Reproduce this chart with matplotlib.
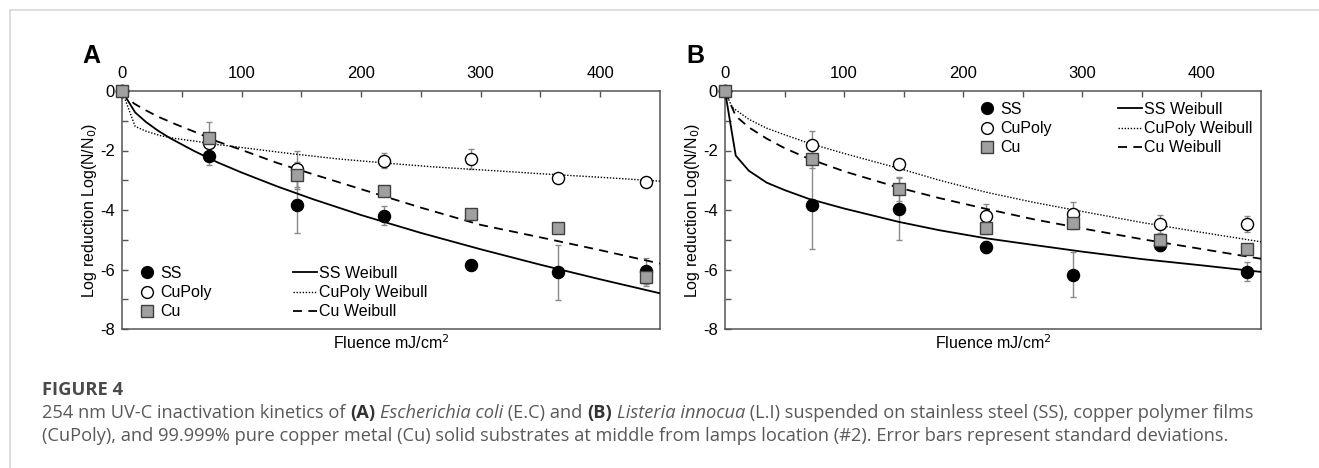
import matplotlib
matplotlib.use("Agg")
import matplotlib.pyplot as plt
from matplotlib.lines import Line2D

# ---------------- data ----------------
fluence = [0, 73, 146, 219, 292, 365, 438]

a_ss = [0, -2.17, -3.83, -4.19, -5.84, -6.10, -6.05]
a_ss_err = [0, 0.33, 0.93, 0.33, 0.08, 0.93, 0.43]
a_cupoly = [0, -1.74, -2.62, -2.35, -2.28, -2.93, -3.07]
a_cupoly_err = [0, 0.10, 0.60, 0.25, 0.33, 0.10, 0.10]
a_cu = [0, -1.57, -2.84, -3.35, -4.13, -4.61, -6.25]
a_cu_err = [0, 0.52, 0.45, 0.10, 0.10, 0.10, 0.30]

b_ss = [0, -3.82, -3.97, -5.24, -6.17, -5.18, -6.07]
b_ss_err = [0, 1.50, 1.05, 0.20, 0.77, 0.20, 0.33]
b_cupoly = [0, -1.80, -2.44, -4.19, -4.13, -4.47, -4.47]
b_cupoly_err = [0, 0.47, 0.10, 0.40, 0.40, 0.30, 0.28]
b_cu = [0, -2.30, -3.30, -4.60, -4.44, -5.02, -5.30]
b_cu_err = [0, 0.30, 0.40, 0.20, 0.20, 0.20, 0.15]

# Weibull fit curves
a_ss_fit_x = [0, 11, 20, 30, 40, 60, 80, 100, 130, 160, 200, 250, 300, 350, 400, 450]
a_ss_fit_y = [0, -0.72, -1.04, -1.33, -1.58, -2.01, -2.40, -2.74, -3.21, -3.64, -4.17, -4.77, -5.32, -5.84, -6.33, -6.80]
a_cupoly_fit_x = [0, 11, 20, 32, 45, 60, 80, 100, 140, 180, 220, 260, 300, 350, 400, 450]
a_cupoly_fit_y = [0, -1.19, -1.35, -1.50, -1.60, -1.68, -1.80, -1.90, -2.10, -2.28, -2.42, -2.55, -2.65, -2.78, -2.90, -3.03]
a_cu_fit_x = [0, 10, 20, 30, 45, 60, 80, 100, 130, 160, 200, 250, 300, 350, 400, 450]
a_cu_fit_y = [0, -0.42, -0.65, -0.86, -1.12, -1.36, -1.70, -1.98, -2.42, -2.80, -3.30, -3.92, -4.50, -4.92, -5.35, -5.80]

b_ss_fit_x = [0, 9, 20, 35, 50, 70, 100, 146, 180, 219, 260, 300, 350, 400, 450]
b_ss_fit_y = [0, -2.17, -2.68, -3.08, -3.33, -3.62, -3.95, -4.40, -4.68, -4.95, -5.18, -5.40, -5.65, -5.86, -6.08]
b_cupoly_fit_x = [0, 6, 20, 35, 50, 70, 100, 146, 180, 219, 260, 300, 350, 400, 450]
b_cupoly_fit_y = [0, -0.55, -0.95, -1.25, -1.47, -1.75, -2.10, -2.60, -3.00, -3.40, -3.75, -4.05, -4.42, -4.75, -5.07]
b_cu_fit_x = [0, 9, 20, 35, 50, 70, 100, 146, 180, 219, 260, 300, 350, 400, 450]
b_cu_fit_y = [0, -0.84, -1.22, -1.60, -1.92, -2.27, -2.70, -3.25, -3.60, -3.96, -4.32, -4.62, -4.98, -5.31, -5.64]

x_ticks = [0, 100, 200, 300, 400]
y_ticks = [0, -2, -4, -6, -8]

# ---------------- layout ----------------
W, H = 1319, 468
fig = plt.figure(figsize=(W / 100, H / 100), dpi=100)
plt.rcParams['font.family'] = ['Liberation Sans', 'DejaVu Sans']
plt.rcParams['axes.unicode_minus'] = False


def fx(x):
    return x / W


def fy(y):
    return 1 - y / H


def add_axes(l, r, t, b):
    return fig.add_axes([fx(l), fy(b), fx(r) - fx(l), fy(t) - fy(b)])


spine_col = '#555555'
FS = 11.5
TFS = 12


def style_axes(ax):
    ax.set_xlim(0, 450)
    ax.set_ylim(-8, 0)
    ax.xaxis.set_ticks_position('top')
    ax.xaxis.set_label_position('bottom')
    ax.set_xticks(x_ticks)
    ax.set_xticks([50, 150, 250, 350], minor=True)
    ax.set_yticks(y_ticks)
    ax.set_yticks([-1, -3, -5, -7], minor=True)
    ax.tick_params(which='both', direction='in', colors=spine_col,
                   labelcolor='black', labelsize=TFS, width=1)
    ax.tick_params(which='major', length=4)
    ax.tick_params(axis='x', which='major', pad=7)
    ax.tick_params(axis='y', which='major', pad=5)
    ax.tick_params(which='minor', length=4)
    for s in ax.spines.values():
        s.set_color(spine_col)
        s.set_linewidth(1.1)
    ax.set_xlabel('Fluence mJ/cm$^2$', fontsize=FS, labelpad=3)
    ax.set_ylabel('Log reduction Log(N/N$_0$)', fontsize=FS)
    ax.yaxis.set_label_coords(-23 / 538, 0.5)


def draw_panel(ax, ss, sse, cp, cpe, cu, cue, fits):
    ecol = '#8a8a8a'
    for y, e in ((ss, sse), (cp, cpe), (cu, cue)):
        ax.errorbar(fluence, y, yerr=e, fmt='none', ecolor=ecol,
                    elinewidth=1, capsize=2.2, capthick=1, zorder=2, clip_on=False)
    (sx, sy), (px, py), (cx, cy) = fits
    ax.plot(sx, sy, color='black', lw=1.3, ls='-', zorder=3)
    ax.plot(px, py, color='black', lw=1.0, ls=(0, (1, 1.2)), zorder=3)
    ax.plot(cx, cy, color='black', lw=1.3, ls=(0, (5, 3.5)), zorder=3)
    ax.plot(fluence, ss, ls='none', marker='o', ms=8.7, mfc='black', mec='black',
            zorder=4, clip_on=False)
    ax.plot(fluence, cp, ls='none', marker='o', ms=8.7, mfc='white', mec='black',
            mew=1, zorder=5, clip_on=False)
    ax.plot(fluence, cu, ls='none', marker='s', ms=8.7, mfc='#a0a0a0', mec='#404040',
            mew=1, zorder=6, clip_on=False)


def add_legends(ax, col1_left, col2_left, top):
    mk = [Line2D([], [], ls='none', marker='o', ms=8.5, mfc='black', mec='black'),
          Line2D([], [], ls='none', marker='o', ms=8.5, mfc='white', mec='black'),
          Line2D([], [], ls='none', marker='s', ms=8.5, mfc='#a0a0a0', mec='#404040')]
    ln = [Line2D([], [], color='black', lw=1.3, ls='-'),
          Line2D([], [], color='black', lw=1.0, ls=(0, (1, 1.2))),
          Line2D([], [], color='black', lw=1.3, ls=(0, (5, 3.5)))]
    kw = dict(loc='upper left', frameon=False, fontsize=FS, borderpad=0,
              borderaxespad=0, handlelength=1.5, handletextpad=0.1,
              labelspacing=0.26, bbox_transform=fig.transFigure)
    l1 = ax.legend(mk, ['SS', 'CuPoly', 'Cu'], bbox_to_anchor=(fx(col1_left), fy(top)), **kw)
    ax.add_artist(l1)
    ax.legend(ln, ['SS Weibull', 'CuPoly Weibull', 'Cu Weibull'],
              bbox_to_anchor=(fx(col2_left), fy(top)), **kw)


axA = add_axes(122, 660, 91, 329)
style_axes(axA)
draw_panel(axA, a_ss, a_ss_err, a_cupoly, a_cupoly_err, a_cu, a_cu_err,
           [(a_ss_fit_x, a_ss_fit_y), (a_cupoly_fit_x, a_cupoly_fit_y), (a_cu_fit_x, a_cu_fit_y)])
add_legends(axA, 135, 293, 266)

axB = add_axes(725, 1261, 91, 329)
style_axes(axB)
draw_panel(axB, b_ss, b_ss_err, b_cupoly, b_cupoly_err, b_cu, b_cu_err,
           [(b_ss_fit_x, b_ss_fit_y), (b_cupoly_fit_x, b_cupoly_fit_y), (b_cu_fit_x, b_cu_fit_y)])
add_legends(axB, 975, 1118, 102)

fig.text(fx(82), fy(63), 'A', fontsize=18, fontweight='bold', ha='left', va='baseline')
fig.text(fx(686), fy(63), 'B', fontsize=18, fontweight='bold', ha='left', va='baseline')

# ---------------- frame lines ----------------
border = '#d8d8d8'
fig.add_artist(Line2D([fx(10), 1], [fy(10), fy(10)], color=border, lw=1.2, transform=fig.transFigure))
fig.add_artist(Line2D([fx(10), fx(10)], [fy(10), 0], color=border, lw=1.2, transform=fig.transFigure))

# ---------------- caption ----------------
cap_col = '#595959'
cap_font = ['Open Sans', 'DejaVu Sans']
renderer = fig.canvas.get_renderer()


def draw_runs(runs, x0, ybase, size, target_w):
    def place(sz):
        arts = []
        x = x0
        for txt, weight, style, col in runs:
            t = fig.text(fx(x), fy(ybase), txt, fontsize=sz, fontweight=weight,
                         fontstyle=style, color=col, family=cap_font,
                         ha='left', va='baseline')
            bb = t.get_window_extent(renderer)
            x += bb.width
            arts.append(t)
        return arts, x - x0
    arts, w = place(size)
    for a in arts:
        a.remove()
    place(size * target_w / w)


draw_runs([('FIGURE 4', 'bold', 'normal', '#4a4a4a')], 42, 395, 12, 81)
line1 = [('254 nm UV-C inactivation kinetics of ', 'normal', 'normal', cap_col),
         ('(A)', 'bold', 'normal', '#333333'),
         (' ', 'normal', 'normal', cap_col),
         ('Escherichia coli', 'normal', 'italic', cap_col),
         (' (E.C) and ', 'normal', 'normal', cap_col),
         ('(B)', 'bold', 'normal', '#333333'),
         (' ', 'normal', 'normal', cap_col),
         ('Listeria innocua', 'normal', 'italic', cap_col),
         (' (L.I) suspended on stainless steel (SS), copper polymer films', 'normal', 'normal', cap_col)]
draw_runs(line1, 42, 418, 11, 1216)
line2 = [('(CuPoly), and 99.999% pure copper metal (Cu) solid substrates at middle from lamps '
          'location (#2). Error bars represent standard deviations.', 'normal', 'normal', cap_col)]
draw_runs(line2, 42, 441, 11, 1190)

fig.savefig('out.png', dpi=100)
